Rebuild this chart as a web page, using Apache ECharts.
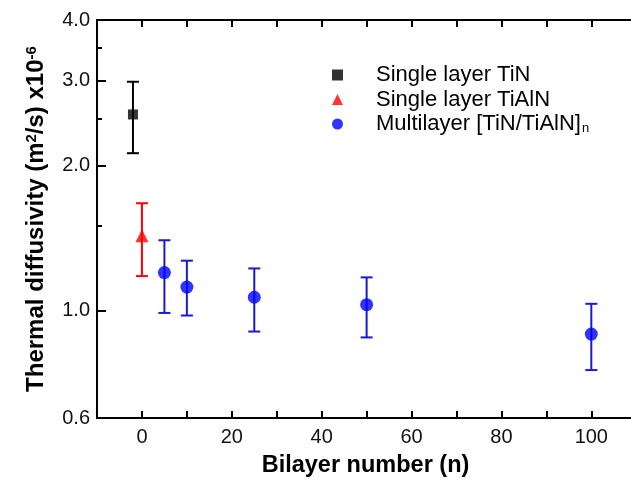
<!DOCTYPE html>
<html><head><meta charset="utf-8">
<script src="https://cdn.jsdelivr.net/npm/echarts@6/dist/echarts.min.js"></script>
<style>html,body{margin:0;padding:0;background:#fff}#c{width:631px;height:482px}</style>
</head><body><div id="c"></div>
<script>
// ---- data ----
const tinN = [-2];
const tinVal = [2.55];
const tinLow = [2.12];
const tinHigh = [2.98];

const tialnN = [0];
const tialnVal = [1.43];
const tialnLow = [1.18];
const tialnHigh = [1.67];

const multiN = [5, 10, 25, 50, 100];
const multiVal = [1.20, 1.12, 1.067, 1.03, 0.895];
const multiLow = [0.99, 0.978, 0.906, 0.881, 0.754];
const multiHigh = [1.40, 1.27, 1.224, 1.173, 1.034];

const xTickLabels = [0, 20, 40, 60, 80, 100];
const xAllTicks = [0, 10, 20, 30, 40, 50, 60, 70, 80, 90, 100];
const yTickLabels = [0.6, 1.0, 2.0, 3.0, 4.0];
const yMinorTicks = [1.5, 2.5, 3.5];
const seriesNames = ['Single layer TiN', 'Single layer TiAlN', 'Multilayer [TiN/TiAlN]'];

const FONT = 'Liberation Sans, Arial, sans-serif';

function pts(xs, ys) { return xs.map((x, i) => [x, ys[i]]); }
function errs(xs, lo, hi) { return xs.map((x, i) => [x, lo[i], hi[i]]); }

function errRender(color) {
  return function (params, api) {
    const x = api.value(0), lo = api.value(1), hi = api.value(2);
    const a = api.coord([x, lo]), b = api.coord([x, hi]);
    const hw = 6;
    const st = { stroke: color, lineWidth: 2 };
    return { type: 'group', children: [
      { type: 'line', shape: { x1: a[0], y1: a[1], x2: b[0], y2: b[1] }, style: st },
      { type: 'line', shape: { x1: a[0] - hw, y1: a[1], x2: a[0] + hw, y2: a[1] }, style: st },
      { type: 'line', shape: { x1: b[0] - hw, y1: b[1], x2: b[0] + hw, y2: b[1] }, style: st }
    ]};
  };
}

const GRID_LEFT = 97, GRID_RIGHT = -3, W = 631;

const option = {
  animation: false,
  backgroundColor: '#fff',
  grid: { left: GRID_LEFT, top: 20, right: GRID_RIGHT, bottom: 64, containLabel: false, outerBoundsMode: 'none',
    show: true, borderColor: '#000', borderWidth: 2, backgroundColor: 'transparent' },
  legend: {
    orient: 'vertical', left: 327, top: 59, itemGap: 2.5,
    itemWidth: 11, itemHeight: 11,
    data: seriesNames,
    textStyle: {
      fontSize: 22, fontFamily: FONT, color: '#000', lineHeight: 22, padding: [0, 0, 0, 28],
      rich: { sub: { fontSize: 13, fontFamily: FONT, color: '#000', verticalAlign: 'bottom', padding: [17, 0, 0, 1] } }
    },
    formatter: function (name) { return name === seriesNames[2] ? name + '{sub|n}' : name; }
  },
  xAxis: [{
    type: 'value', min: -10, max: 109.5, interval: 10, position: 'bottom',
    axisLine: { show: true, onZero: false, lineStyle: { color: '#000', width: 2 } },
    axisTick: { show: true, inside: true, length: 7, lineStyle: { color: '#000', width: 2 }, customValues: xAllTicks },
    axisLabel: { margin: 9, fontSize: 20, fontFamily: FONT, color: '#111', customValues: xTickLabels },
    splitLine: { show: false },
    name: 'Bilayer number (n)', nameLocation: 'middle', nameGap: 36,
    nameTextStyle: { fontSize: 23.5, fontWeight: 'bold', fontFamily: FONT, color: '#000' }
  }, {
    type: 'value', min: -10, max: 109.5, interval: 10, position: 'top',
    axisLine: { show: false, onZero: false },
    axisTick: { show: true, inside: true, length: 7, lineStyle: { color: '#000', width: 2 }, customValues: xAllTicks },
    axisLabel: { show: true, color: 'transparent', fontSize: 10, customValues: xTickLabels, formatter: () => '' },
    splitLine: { show: false }
  }],
  yAxis: [{
    type: 'log', min: 0.6, max: 4, logBase: 10, position: 'left',
    axisLine: { show: true, onZero: false, lineStyle: { color: '#000', width: 2 } },
    axisTick: { show: true, inside: true, length: 9, lineStyle: { color: '#000', width: 2 }, customValues: yTickLabels },
    axisLabel: { margin: 7, fontSize: 20, fontFamily: FONT, color: '#111',
      customValues: yTickLabels, formatter: v => Number(v).toFixed(1) },
    splitLine: { show: false },
    name: 'Thermal diffusivity (m{sup|2}/s) x10{sup|-6}', nameLocation: 'middle', nameGap: 49, nameRotate: 90,
    nameTextStyle: { fontSize: 24, fontWeight: 'bold', fontFamily: FONT, color: '#000',
      rich: { sup: { fontSize: 15, fontWeight: 'bold', fontFamily: FONT, color: '#000', verticalAlign: 'top' } } }
  }, {
    // minor ticks: a right-positioned axis shifted onto the left frame, ticks pointing right
    type: 'log', min: 0.6, max: 4, logBase: 10, position: 'right', offset: -(W - GRID_LEFT - GRID_RIGHT),
    axisLine: { show: false, onZero: false },
    axisTick: { show: true, inside: false, length: 5, lineStyle: { color: '#000', width: 2 }, customValues: yMinorTicks },
    axisLabel: { show: true, color: 'transparent', fontSize: 10, customValues: yMinorTicks, formatter: () => '' },
    splitLine: { show: false }
  }],
  series: [
    { name: seriesNames[0], type: 'scatter', symbol: 'rect', symbolSize: 10, itemStyle: { color: '#000' },
      data: pts(tinN, tinVal), z: 5 },
    { name: seriesNames[1], type: 'scatter', symbol: 'triangle', symbolSize: 13, itemStyle: { color: '#ff0000' },
      data: pts(tialnN, tialnVal), z: 5 },
    { name: seriesNames[2], type: 'scatter', symbol: 'circle', symbolSize: 13, itemStyle: { color: '#0000ff' },
      data: pts(multiN, multiVal), z: 5 },
    { type: 'custom', xAxisIndex: 1, yAxisIndex: 1, renderItem: errRender('#000'), encode: { x: 0, y: [1, 2] },
      data: errs(tinN, tinLow, tinHigh), z: 3 },
    { type: 'custom', xAxisIndex: 1, yAxisIndex: 1, renderItem: errRender('#ff0000'), encode: { x: 0, y: [1, 2] },
      data: errs(tialnN, tialnLow, tialnHigh), z: 3 },
    { type: 'custom', xAxisIndex: 1, yAxisIndex: 1, renderItem: errRender('#1a1ad6'), encode: { x: 0, y: [1, 2] },
      data: errs(multiN, multiLow, multiHigh), z: 3 }
  ]
};
const chart = echarts.init(document.getElementById('c'), null, { renderer: 'canvas' });
chart.setOption(option);
</script>
</body></html>
